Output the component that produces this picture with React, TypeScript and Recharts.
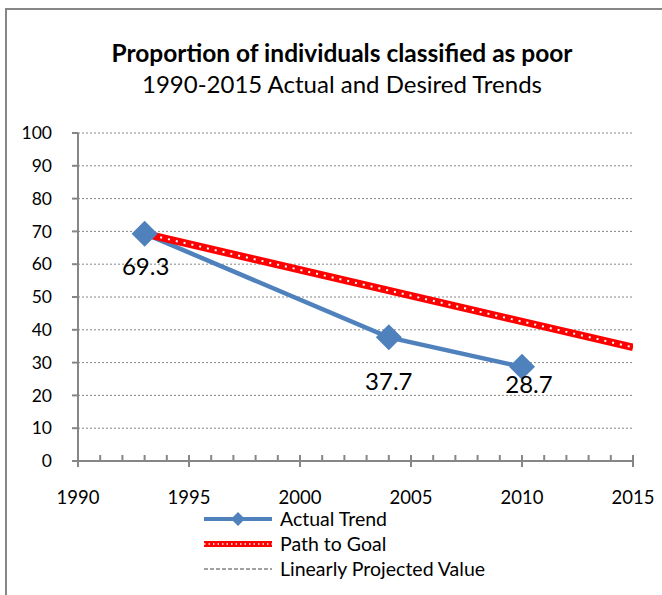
import { LineChart, Line, XAxis, YAxis, CartesianGrid, LabelList } from "recharts";

const actualYears = [1993, 2004, 2010];
const actualValues = [69.3, 37.7, 28.7];
const goalYears = [1993, 2015];
const goalValues = [69.3, 34.65];
const yTicks = [0, 10, 20, 30, 40, 50, 60, 70, 80, 90, 100];
const xMajorTicks = [1990, 1995, 2000, 2005, 2010, 2015];

const actualData = actualYears.map((year, i) => ({ year, value: actualValues[i] }));
const goalData = goalYears.map((year, i) => ({ year, value: goalValues[i] }));
const xAllTicks = Array.from({ length: 26 }, (_, i) => 1990 + i);

// nudges for the data labels (excel placed them by hand)
const labelNudge = [
  { dx: 1, dy: 32 },
  { dx: 0, dy: 43 },
  { dx: 7, dy: 17 },
];

const FONT = "Lato, 'Noto Sans', sans-serif";
const AXIS = "#868686";
const BLUE = "#4f81bd";

function Diamond(props: any) {
  const { cx, cy } = props;
  if (cx == null || cy == null) return null;
  const s = 13;
  return <polygon points={`${cx},${cy - s} ${cx + s},${cy} ${cx},${cy + s} ${cx - s},${cy}`} fill={BLUE} />;
}

function XTick(props: any) {
  const { x, y, payload } = props;
  const v = payload.value;
  const major = xMajorTicks.includes(v);
  return (
    <g>
      <line x1={x} x2={x} y1={y - 6} y2={major ? y + 6 : y} stroke={AXIS} strokeWidth={2} />
      {major && (
        <text x={x} y={y + 43} textAnchor="middle" fontSize={18.5} fill="#000" fontFamily={FONT}>
          {v}
        </text>
      )}
    </g>
  );
}

function ValueLabel(props: any) {
  const { x, y, value, index } = props;
  const n = labelNudge[index] || { dx: 0, dy: 30 };
  return (
    <text x={x + n.dx} y={y + n.dy} textAnchor="middle" dominantBaseline="central" fontSize={24} fill="#000" fontFamily={FONT}>
      {value}
    </text>
  );
}

function LegendRow({ kind, label }: { kind: string; label: string }) {
  return (
    <div style={{ display: "flex", alignItems: "center", height: 25 }}>
      <svg width={75} height={20}>
        {kind === "actual" && (
          <>
            <line x1={2} x2={70} y1={10} y2={10} stroke={BLUE} strokeWidth={4} />
            <polygon points="36,3 43,10 36,17 29,10" fill={BLUE} />
          </>
        )}
        {kind === "goal" && (
          <>
            <line x1={2} x2={70} y1={10} y2={10} stroke="#ff0000" strokeWidth={6} />
            <line x1={2} x2={70} y1={10} y2={10} stroke="#fff" strokeWidth={1.5} strokeDasharray="1.5 3" />
          </>
        )}
        {kind === "proj" && <line x1={2} x2={70} y1={10} y2={10} stroke="#444" strokeWidth={1} strokeDasharray="4 2" />}
      </svg>
      <span style={{ marginLeft: 3, fontSize: 19.5, fontFamily: FONT, color: "#000" }}>{label}</span>
    </div>
  );
}

export default function App() {
  return (
    <div style={{ position: "absolute", left: 0, top: 0, width: 662, height: 595, background: "#fff", overflow: "hidden" }}>
      <div style={{ position: "absolute", left: 5, top: 8, width: 700, height: 700, borderLeft: `2px solid ${AXIS}`, borderTop: `2px solid ${AXIS}` }} />
      <div style={{ position: "absolute", left: 0, top: 38, width: 684, textAlign: "center", fontFamily: FONT, color: "#000" }}>
        <div style={{ fontSize: 24.5, fontWeight: 700, lineHeight: "30px" }}>Proportion of individuals classified as poor</div>
        <div style={{ fontSize: 24, lineHeight: "32px" }}>1990-2015 Actual and Desired Trends</div>
      </div>
      <div style={{ position: "absolute", left: 0, top: 0 }}>
        <LineChart width={662} height={595} data={actualData} margin={{ top: 133, right: 29, bottom: 94, left: 18 }}>
          <CartesianGrid horizontal={true} vertical={false} stroke={AXIS} strokeDasharray="2 2" />
          <XAxis
            dataKey="year"
            type="number"
            domain={[1990, 2015]}
            ticks={xAllTicks}
            interval={0}
            allowDataOverflow
            height={40}
            axisLine={{ stroke: AXIS, strokeWidth: 2 }}
            tickLine={false}
            tickSize={0}
            tickMargin={0}
            tick={<XTick />}
          />
          <YAxis
            type="number"
            domain={[0, 100]}
            ticks={yTicks}
            interval={0}
            width={60}
            axisLine={{ stroke: AXIS, strokeWidth: 2 }}
            tickLine={{ stroke: AXIS, strokeWidth: 2 }}
            tickSize={6}
            tickMargin={20}
            tick={{ fontSize: 17.5, fill: "#000", fontFamily: FONT }}
          />
          <Line
            data={actualData}
            dataKey="value"
            type="linear"
            stroke={BLUE}
            strokeWidth={4.5}
            dot={<Diamond />}
            activeDot={false}
            isAnimationActive={false}
          >
            <LabelList dataKey="value" content={<ValueLabel />} />
          </Line>
          <Line data={goalData} dataKey="value" type="linear" stroke="#ff0000" strokeWidth={7.5} dot={false} activeDot={false} isAnimationActive={false} />
          <Line
            data={goalData}
            dataKey="value"
            type="linear"
            stroke="#ffffff"
            strokeWidth={2}
            strokeDasharray="2 6"
            dot={false}
            activeDot={false}
            legendType="none"
            isAnimationActive={false}
          />
        </LineChart>
      </div>
      <div style={{ position: "absolute", left: 202, top: 506 }}>
        <LegendRow kind="actual" label="Actual Trend" />
        <LegendRow kind="goal" label="Path to Goal" />
        <LegendRow kind="proj" label="Linearly Projected Value" />
      </div>
    </div>
  );
}
